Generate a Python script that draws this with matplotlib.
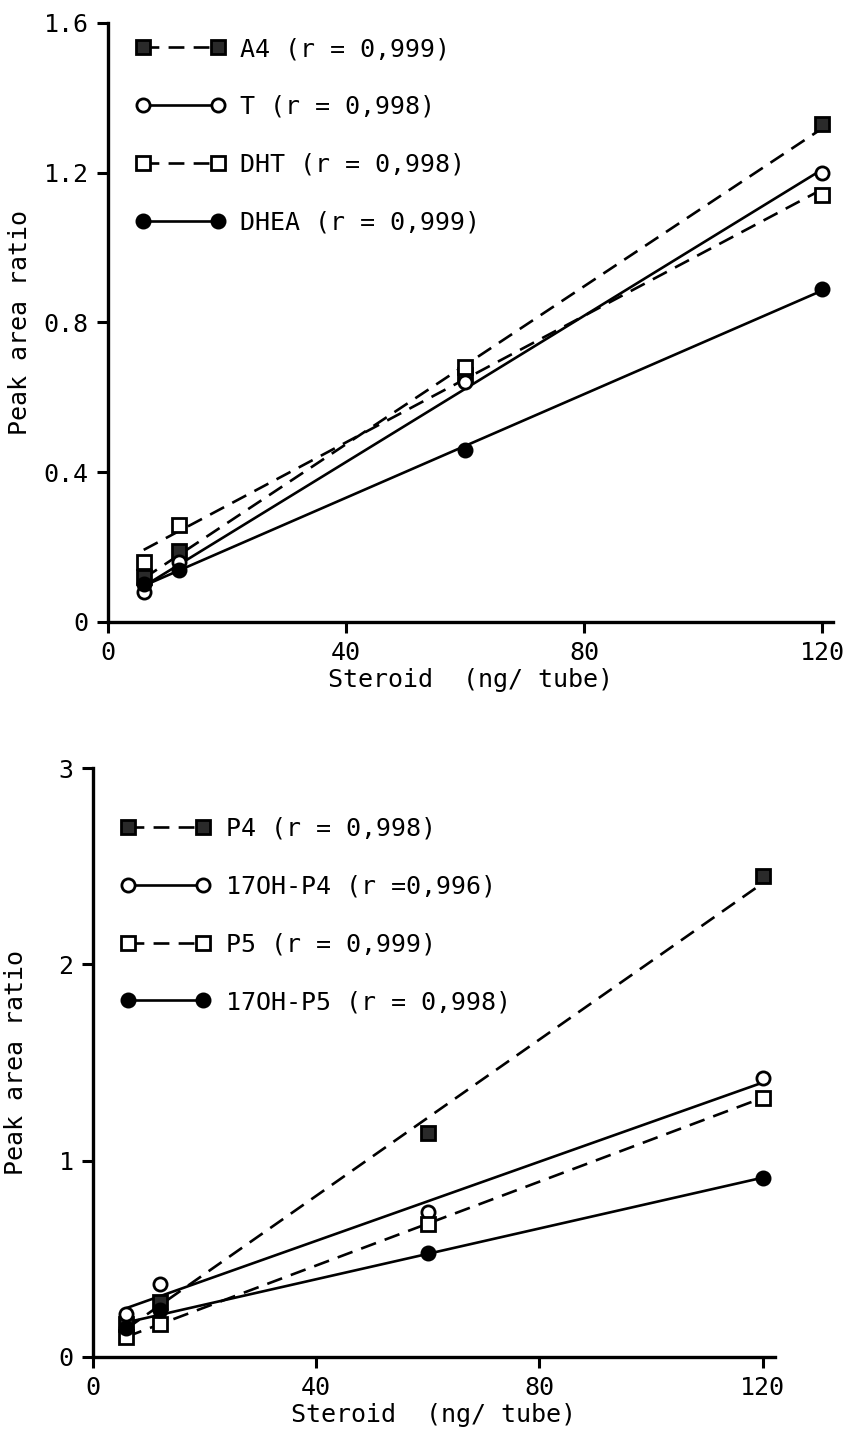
import numpy as np
import matplotlib
matplotlib.use("Agg")
import matplotlib.pyplot as plt
from matplotlib.lines import Line2D

plt.rcParams['font.family'] = ['DejaVu Sans Mono', 'DejaVu Sans']

# dose points (ng/tube)
dose = [6, 12, 60, 120]

# upper panel
a4 = [0.12, 0.19, 0.66, 1.33]
t = [0.08, 0.16, 0.64, 1.20]
dht = [0.16, 0.26, 0.68, 1.14]
dhea = [0.10, 0.14, 0.46, 0.89]
top_labels = ["A4 (r = 0,999)", "T (r = 0,998)", "DHT (r = 0,998)", "DHEA (r = 0,999)"]

# lower panel
p4 = [0.17, 0.28, 1.14, 2.45]
oh_p4 = [0.22, 0.37, 0.74, 1.42]
p5 = [0.10, 0.17, 0.68, 1.32]
oh_p5 = [0.15, 0.24, 0.53, 0.91]
bot_labels = ["P4 (r = 0,998)", "17OH-P4 (r =0,996)", "P5 (r = 0,999)", "17OH-P5 (r = 0,998)"]

FS = 18
LW = 1.9
DASH = (0, (6, 3.5))

# (marker, facecolor, linestyle)
styles = [
    ("s", "#2a2a2a", DASH),
    ("o", "white", "-"),
    ("s", "white", DASH),
    ("o", "black", "-"),
]


def draw_panel(ax, series, labels, anchor, ypad):
    handles = []
    xs = np.array(dose, dtype=float)
    xfit = np.array([xs.min(), xs.max()])
    for ys, (mk, fc, ls), lab in zip(series, styles, labels):
        k, b = np.polyfit(xs, ys, 1)
        ax.plot(xfit, k * xfit + b, color="black", lw=LW, linestyle=ls, zorder=2)
        ax.plot(xs, ys, linestyle="none", marker=mk, ms=9.5, mfc=fc, mec="black",
                mew=2.0, zorder=3)
        handles.append(Line2D([], [], color="black", lw=LW, linestyle=ls, marker=mk,
                              ms=9.5, mfc=fc, mec="black", mew=2.0, label=lab))
    ax.legend(handles=handles, loc="upper left", numpoints=2, frameon=False,
              handlelength=3.6, handletextpad=0.6, labelspacing=1.35,
              fontsize=FS, borderaxespad=0.0, bbox_to_anchor=anchor)
    for sp in ("top", "right"):
        ax.spines[sp].set_visible(False)
    for sp in ("left", "bottom"):
        ax.spines[sp].set_linewidth(2.4)
    ax.tick_params(direction="out", length=8, width=2.2, labelsize=FS, pad=6)
    ax.set_xlabel("Steroid  (ng/ tube)", fontsize=FS, labelpad=2)
    ax.set_ylabel("Peak area ratio", fontsize=FS, labelpad=ypad)


fig = plt.figure(figsize=(8.43, 14.34), dpi=100)

ax1 = fig.add_axes([0.1281, 0.5663, 0.860, 0.4177])
draw_panel(ax1, [a4, t, dht, dhea], top_labels, (0.024, 0.993), 8)
ax1.set_xlim(0, 121.8)
ax1.set_ylim(0, 1.6)
ax1.set_xticks([0, 40, 80, 120])
ax1.set_yticks([0, 0.4, 0.8, 1.2, 1.6])
ax1.set_yticklabels(["0", "0.4", "0.8", "1.2", "1.6"])

ax2 = fig.add_axes([0.1103, 0.0537, 0.809, 0.4107])
draw_panel(ax2, [p4, oh_p4, p5, oh_p5], bot_labels, (0.026, 0.934), 22)
ax2.set_xlim(0, 122.2)
ax2.set_ylim(0, 3)
ax2.set_xticks([0, 40, 80, 120])
ax2.set_yticks([0, 1, 2, 3])

fig.savefig("out.png", dpi=100)
